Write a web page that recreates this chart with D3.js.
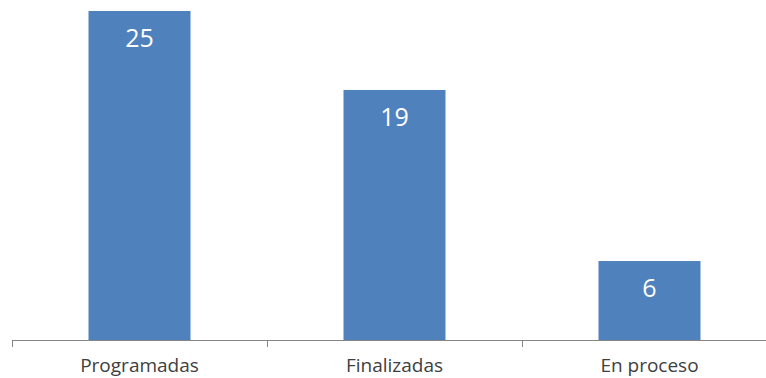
<!DOCTYPE html>
<html lang="es">
  <head>
    <meta charset="utf-8">
    <title>Actividades</title>
    <script src="https://d3js.org/d3.v7.min.js" charset="utf-8"></script>
    <style>
      body { margin: 0; background: #fff; }
      text { font-family: "Open Sans", "Noto Sans", sans-serif; }
    </style>
  </head>
  <body>
    <div id="dataviz"></div>
  <script type="text/javascript">
    var categories = ["Programadas", "Finalizadas", "En proceso"];
    var values = [25, 19, 6];

    var width = 766, height = 378;
    var axisLeft = 12, axisRight = 777, baseY = 340, topY = 11;

    var svg = d3.select("#dataviz")
      .append("svg")
        .attr("width", width)
        .attr("height", height);

    var x = d3.scaleBand()
        .domain(categories)
        .range([axisLeft, axisRight])
        .padding(0);

    var y = d3.scaleLinear()
        .domain([0, 25])
        .range([baseY, topY]);

    var barW = x.bandwidth() * 0.4;

    svg.selectAll(".bar")
      .data(values)
      .enter()
      .append("rect")
      .attr("class", "bar")
      .attr("x", function(d, i) { return x(categories[i]) + (x.bandwidth() - barW) / 2 })
      .attr("y", function(d) { return y(d) })
      .attr("width", barW)
      .attr("height", function(d) { return baseY - y(d) })
      .attr("fill", "#4f81bd");

    svg.selectAll(".val")
      .data(values)
      .enter()
      .append("text")
      .attr("class", "val")
      .attr("x", function(d, i) { return x(categories[i]) + x.bandwidth() / 2 })
      .attr("y", function(d) { return y(d) + 36 })
      .attr("text-anchor", "middle")
      .attr("fill", "#fff")
      .attr("font-size", 25)
      .text(function(d) { return d });

    // axis line + ticks between categories
    var axis = svg.append("g");
    axis.append("line")
      .attr("x1", axisLeft).attr("x2", axisRight)
      .attr("y1", baseY + 0.5).attr("y2", baseY + 0.5)
      .attr("stroke", "#868686");

    var tickXs = categories.map(function(c) { return x(c) }).concat([axisRight]);
    axis.selectAll(".tick")
      .data(tickXs)
      .enter()
      .append("line")
      .attr("x1", function(d) { return Math.round(d) + 0.5 })
      .attr("x2", function(d) { return Math.round(d) + 0.5 })
      .attr("y1", baseY)
      .attr("y2", baseY + 7)
      .attr("stroke", "#868686");

    svg.selectAll(".cat")
      .data(categories)
      .enter()
      .append("text")
      .attr("class", "cat")
      .attr("x", function(d) { return x(d) + x.bandwidth() / 2 })
      .attr("y", 372)
      .attr("text-anchor", "middle")
      .attr("fill", "#404040")
      .attr("font-size", 19)
      .text(function(d) { return d });
  </script>
  </body>
</html>
